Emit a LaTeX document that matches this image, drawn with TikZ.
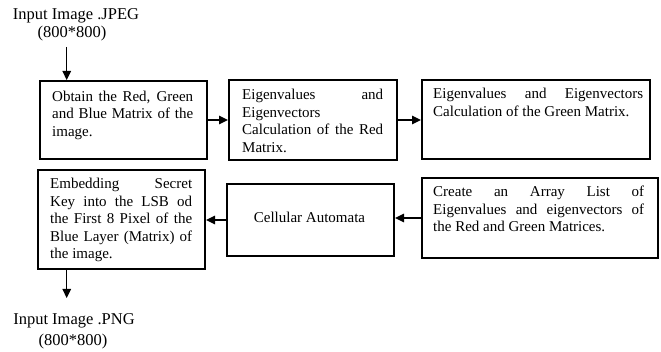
\documentclass[tikz,border=0pt]{standalone}
\usepackage{fontspec}
\setmainfont{Liberation Serif}
\usetikzlibrary{arrows.meta}
\newcommand\jl[1]{\hbox to \hsize{#1}}
\newcommand\rl[1]{\hbox to \hsize{#1\hfil}}
\begin{document}
\begin{tikzpicture}[x=1pt,y=-1pt,
  box/.style={draw, line width=2pt, inner sep=0pt, anchor=north west},
  txt/.style={inner sep=0pt, anchor=base west, font=\fontsize{15}{17.5}\selectfont},
  lbl/.style={inner sep=0pt, anchor=base, font=\fontsize{16.5}{19}\selectfont},
  arr/.style={line width=1.3pt, -{Triangle[length=9pt,width=8.5pt]}}]
\path[use as bounding box] (0,0) rectangle (661,352);

% boxes
\node[box, minimum width=167pt, minimum height=78pt] (b1) at (39,80) {};
\node[box, minimum width=168pt, minimum height=80pt] (b2) at (228,79) {};
\node[box, minimum width=228pt, minimum height=79pt] (b3) at (421,79) {};
\node[box, minimum width=167pt, minimum height=99pt] (b4) at (37,169) {};
\node[box, minimum width=167pt, minimum height=72pt] (b5) at (226,183) {};
\node[box, minimum width=236pt, minimum height=80pt] (b6) at (421,177) {};

% texts
\node[txt] (t1) at (52,101.5) {\parbox[t]{141pt}{\jl{Obtain the Red, Green}\jl{and Blue Matrix of the}\rl{image.}}};
\node[txt] (t2) at (242,100) {\parbox[t]{141pt}{\jl{Eigenvalues \hfil and}\rl{Eigenvectors}\jl{Calculation of the Red}\rl{Matrix.}}};
\node[txt] (t3) at (433,99) {\parbox[t]{210pt}{\jl{Eigenvalues and Eigenvectors}\rl{Calculation of the Green Matrix.}}};
\node[txt] (t4) at (50,189) {\parbox[t]{142pt}{\jl{Embedding \hfil Secret}\jl{Key into the LSB od}\jl{the First 8 Pixel of the}\jl{Blue Layer (Matrix) of}\rl{the image.}}};
\node[txt, anchor=base] (t5) at (309.5,223) {Cellular Automata};
\node[txt] (t6) at (433,197) {\parbox[t]{211pt}{\jl{Create an Array List of}\jl{Eigenvalues and eigenvectors of}\rl{the Red and Green Matrices.}}};

% labels
\node[lbl] (in1) at (76,19.5) {Input Image .JPEG};
\node[lbl] (in2) at (72,38) {(800*800)};
\node[lbl] (out1) at (74,325) {Input Image .PNG};
\node[lbl] (out2) at (73,345) {(800*800)};

% connectors
\coordinate (s1) at (66.7,47);
\draw[arr] (s1) -- (s1 |- b1.north);
\draw[arr] (b1.east) -- (b1.east -| b2.west);
\draw[arr] (b2.east) -- (b2.east -| b3.west);
\draw[arr] (b6.west) -- (b6.west -| b5.east);
\draw[arr] (b5.west) -- (b5.west -| b4.east);
\coordinate (e2) at (66.7,298);
\draw[arr] (e2 |- b4.south) -- (e2);
\end{tikzpicture}
\end{document}
